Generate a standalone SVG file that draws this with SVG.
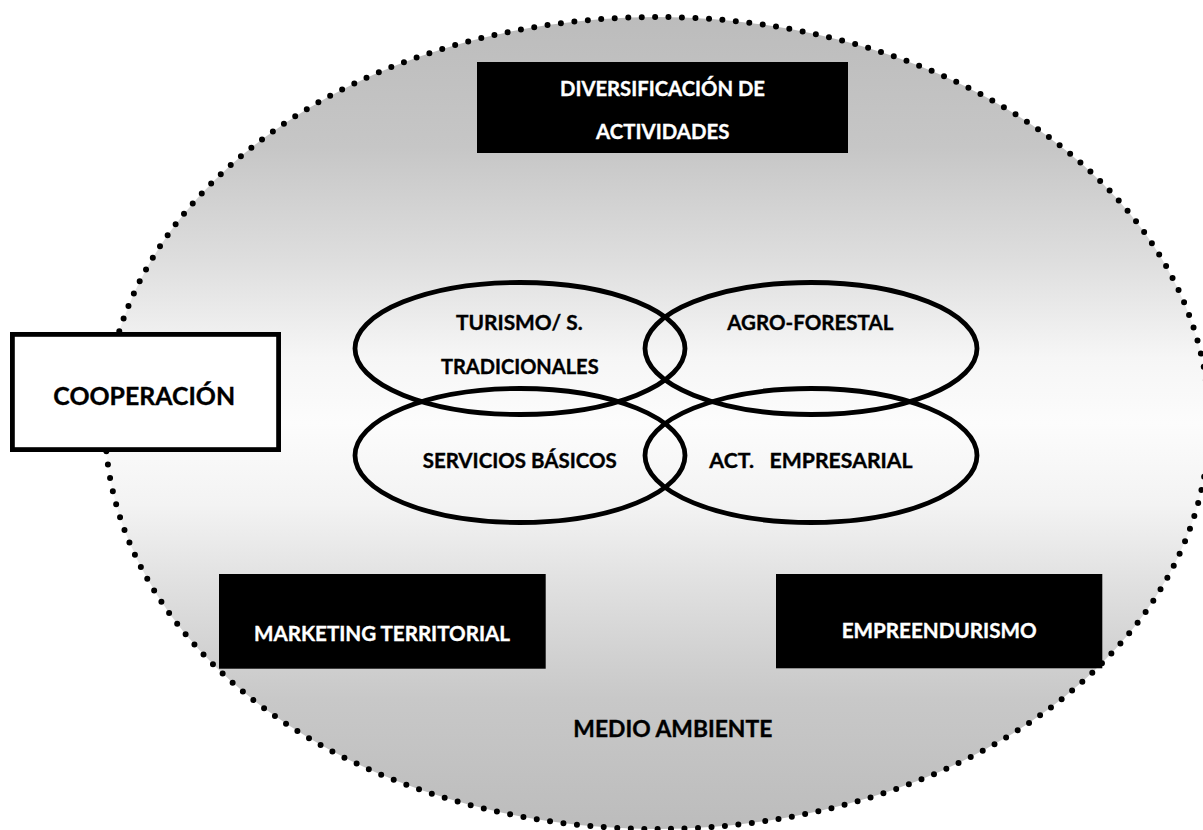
<svg xmlns="http://www.w3.org/2000/svg" width="1203" height="830" viewBox="0 0 1203 830">
  <style>
    text { font-family: Lato, "Liberation Sans", sans-serif; font-weight: bold; text-anchor: middle; stroke-width: 0.35px; }
    .dark { fill: #000000; stroke: #000000; }
    .light { fill: #ffffff; stroke: #ffffff; }
    .box { fill: #000000; }
    .ring { fill: none; stroke: #000000; stroke-width: 4.8; }
    .t20 { font-size: 20px; }
  </style>
  <defs>
    <linearGradient id="bgGrad" x1="0" y1="0" x2="0" y2="1">
      <stop offset="0" stop-color="#bcbcbc"/>
      <stop offset="0.16" stop-color="#c6c6c6"/>
      <stop offset="0.3" stop-color="#dedede"/>
      <stop offset="0.42" stop-color="#f6f6f6"/>
      <stop offset="0.5" stop-color="#fcfcfc"/>
      <stop offset="0.6" stop-color="#f3f3f3"/>
      <stop offset="0.7" stop-color="#e0e0e0"/>
      <stop offset="0.84" stop-color="#c8c8c8"/>
      <stop offset="1" stop-color="#bcbcbc"/>
    </linearGradient>
  </defs>

  <g id="medio-ambiente">
    <ellipse cx="657" cy="423" rx="552" ry="406" fill="url(#bgGrad)" stroke="#000000" stroke-width="6" stroke-linecap="round" stroke-dasharray="0 13.5"/>
    <text class="dark" x="672.8" y="736.7" font-size="22" textLength="199" lengthAdjust="spacingAndGlyphs">MEDIO AMBIENTE</text>
  </g>

  <g id="connectors"></g>

  <g id="diversificacion">
    <rect class="box" x="477" y="62" width="371" height="91"/>
    <text class="light t20" x="662.5" y="95.7" textLength="205" lengthAdjust="spacingAndGlyphs">DIVERSIFICACIÓN DE</text>
    <text class="light t20" x="662.7" y="139.3" textLength="133.3" lengthAdjust="spacingAndGlyphs">ACTIVIDADES</text>
  </g>

  <g id="cooperacion">
    <rect x="12.4" y="334.4" width="266.2" height="115.2" fill="#ffffff" stroke="#000000" stroke-width="4.8"/>
    <text class="dark" x="144.2" y="405" font-size="25.5" textLength="181.7" lengthAdjust="spacingAndGlyphs">COOPERACIÓN</text>
  </g>

  <g id="turismo">
    <ellipse class="ring" cx="520" cy="348.5" rx="165" ry="66"/>
    <text class="dark t20" x="519.3" y="330" textLength="126.7" lengthAdjust="spacingAndGlyphs">TURISMO/ S.</text>
    <text class="dark t20" x="519.8" y="374" textLength="157.7" lengthAdjust="spacingAndGlyphs">TRADICIONALES</text>
  </g>

  <g id="agroforestal">
    <ellipse class="ring" cx="811" cy="348.5" rx="166" ry="66"/>
    <text class="dark t20" x="810.3" y="330" textLength="166" lengthAdjust="spacingAndGlyphs">AGRO-FORESTAL</text>
  </g>

  <g id="servicios">
    <ellipse class="ring" cx="520" cy="455.5" rx="165" ry="67"/>
    <text class="dark t20" x="519.7" y="468.3" textLength="194" lengthAdjust="spacingAndGlyphs">SERVICIOS BÁSICOS</text>
  </g>

  <g id="empresarial">
    <ellipse class="ring" cx="811" cy="455.5" rx="166" ry="67"/>
    <text class="dark t20" x="811" y="468.3" xml:space="preserve" style="white-space:pre" textLength="203.3" lengthAdjust="spacingAndGlyphs">ACT.   EMPRESARIAL</text>
  </g>

  <g id="marketing">
    <rect class="box" x="219" y="574" width="326.7" height="94.7"/>
    <text class="light t20" x="382" y="640.7" textLength="256" lengthAdjust="spacingAndGlyphs">MARKETING TERRITORIAL</text>
  </g>

  <g id="empreendurismo">
    <rect class="box" x="776" y="574" width="326.3" height="94.3"/>
    <text class="light t20" x="939.2" y="637.7" textLength="195" lengthAdjust="spacingAndGlyphs">EMPREENDURISMO</text>
  </g>
</svg>
